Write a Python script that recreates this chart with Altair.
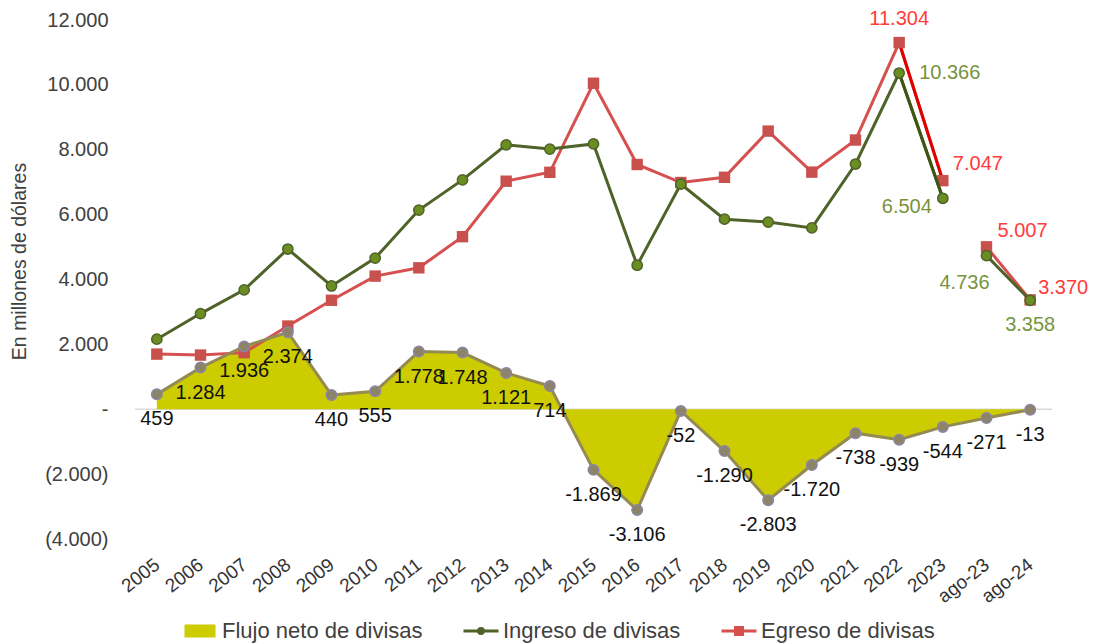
import altair as alt
import pandas as pd

categorias = ["2005", "2006", "2007", "2008", "2009", "2010", "2011", "2012", "2013", "2014",
              "2015", "2016", "2017", "2018", "2019", "2020", "2021", "2022", "2023",
              "ago-23", "ago-24"]
ingreso = [2160, 2950, 3680, 4940, 3800, 4660, 6140, 7070, 8150, 8020,
           8180, 4440, 6940, 5860, 5770, 5590, 7560, 10366, 6504, 4736, 3358]
egreso = [1700, 1670, 1745, 2565, 3360, 4105, 4360, 5320, 7030, 7305,
          10050, 7545, 6990, 7150, 8575, 7310, 8300, 11304, 7047, 5007, 3370]
neto = [459, 1284, 1936, 2374, 440, 555, 1778, 1748, 1121, 714,
        -1869, -3106, -52, -1290, -2803, -1720, -738, -939, -544, -271, -13]
tramo = ["anual", "anual", "anual", "anual", "anual", "anual", "anual", "anual", "anual", "anual",
         "anual", "anual", "anual", "anual", "anual", "anual", "anual", "anual", "anual",
         "agosto", "agosto"]
series = ["Flujo neto de divisas", "Ingreso de divisas", "Egreso de divisas"]
tramo_destacado = ["2022", "2023"]

# label placement (style): (category, dx, dy, align)
etiq_egreso = [("2022", 0, -24, "center"), ("2023", 10, -17, "left"),
               ("ago-23", 11, -16, "left"), ("ago-24", 8, -12, "left")]
etiq_ingreso = [("2022", 20, 0, "left"), ("2023", -11, 9, "right"),
                ("ago-23", -22, 27, "center"), ("ago-24", 0, 25, "center")]

FONT = "Liberation Sans"
C_AREA = "#cccc00"
C_NET_LINE = "#948a54"
C_ING = "#4f6228"
C_ING_PT = "#6b8e23"
C_EGR = "#d5504e"
C_EGR_PT = "#c8504d"


def fmt(v):
    return f"{v:,}".replace(",", ".")


df = pd.DataFrame({"categoria": categorias, "ingreso": ingreso, "egreso": egreso,
                   "neto": neto, "tramo": tramo})
df["lab_neto"] = [fmt(v) for v in neto]
df["lab_ing"] = [fmt(v) for v in ingreso]
df["lab_egr"] = [fmt(v) for v in egreso]

xenc = alt.X("categoria:N", sort=categorias,
             scale=alt.Scale(type="point", padding=0.5),
             axis=alt.Axis(title=None, labelAngle=322, labelAlign="right",
                           labelBaseline="middle", labelFontSize=19, labelFont=FONT,
                           labelColor="#333333", domain=False, ticks=False,
                           labelPadding=23, labelOverlap=False, labelBound=False))
yscale = alt.Scale(domain=[-4000, 12000], nice=False)
ylabel = ("datum.value == 0 ? '-' : (datum.value < 0 ? '(' + replace(format(-datum.value, ',.0f'), ',', '.') + ')'"
          " : replace(format(datum.value, ',.0f'), ',', '.'))")
yaxis = alt.Axis(values=[-4000, -2000, 0, 2000, 4000, 6000, 8000, 10000, 12000],
                 labelExpr=ylabel, domain=False, ticks=False, grid=False,
                 labelPadding=27, labelFontSize=20, labelFont=FONT, labelColor="#404040",
                 title="En millones de dólares", titleFontSize=19.5, titleFont=FONT,
                 titleFontWeight="normal", titleColor="#404040", titlePadding=15,
                 titleY=241)


def Y(field):
    return alt.Y(field, scale=yscale, axis=yaxis)


base = alt.Chart(df)

cero = alt.Chart(pd.DataFrame({"cero": [0]})).mark_rule(color="#d9d9d9", strokeWidth=1.5).encode(
    y=Y("cero:Q"))

area = base.mark_area(color=C_AREA, opacity=1).encode(
    x=xenc, y=Y("neto:Q"), y2=alt.datum(0))

destacado = df[df["categoria"].isin(tramo_destacado)]

egr_line = base.mark_line(color=C_EGR, strokeWidth=3).encode(
    x=xenc, y=Y("egreso:Q"), detail="tramo:N")
egr_hl = alt.Chart(destacado).mark_line(color="#e00000", strokeWidth=3).encode(
    x=xenc, y=Y("egreso:Q"))
egr_pts = base.mark_square(size=130, color=C_EGR_PT, opacity=1).encode(
    x=xenc, y=Y("egreso:Q"))

ing_line = base.mark_line(color=C_ING, strokeWidth=3).encode(
    x=xenc, y=Y("ingreso:Q"), detail="tramo:N")
ing_hl = alt.Chart(destacado).mark_line(color="#3d5614", strokeWidth=3).encode(
    x=xenc, y=Y("ingreso:Q"))
ing_pts = base.mark_circle(size=105, color=C_ING_PT, stroke=C_ING, strokeWidth=1.5, opacity=1).encode(
    x=xenc, y=Y("ingreso:Q"))

net_line = base.mark_line(color=C_NET_LINE, strokeWidth=3).encode(
    x=xenc, y=Y("neto:Q"))
net_pts = base.mark_circle(size=110, fill="#8d8468", stroke="#8a85a6", strokeWidth=1.5, opacity=1).encode(
    x=xenc, y=Y("neto:Q"))
net_lab = base.mark_text(dy=25, fontSize=20, font=FONT, color="#111111").encode(
    x=xenc, y=Y("neto:Q"), text="lab_neto:N")

lab_layers = []
for cat, dx, dy, al in etiq_egreso:
    lab_layers.append(base.transform_filter(alt.datum.categoria == cat).mark_text(
        dx=dx, dy=dy, align=al, fontSize=20, font=FONT, color="#ff3b3b").encode(
        x=xenc, y=Y("egreso:Q"), text="lab_egr:N"))
for cat, dx, dy, al in etiq_ingreso:
    lab_layers.append(base.transform_filter(alt.datum.categoria == cat).mark_text(
        dx=dx, dy=dy, align=al, fontSize=20, font=FONT, color="#77933c").encode(
        x=xenc, y=Y("ingreso:Q"), text="lab_ing:N"))

# legend
fills = [C_AREA, C_ING_PT, C_EGR_PT]
strokes = [C_AREA, C_ING, C_EGR]
paths = [
    "M-0.8,-0.28L0.8,-0.28L0.8,0.28L-0.8,0.28Z",
    "M-1,0L1,0M0.14,0A0.14,0.14,0,1,1,-0.14,0A0.14,0.14,0,1,1,0.14,0Z",
    "M-1,0L1,0M-0.2,-0.2L0.2,-0.2L0.2,0.2L-0.2,0.2Z",
]
leg = alt.Legend(title=None, orient="none", legendX=46, legendY=592, direction="horizontal",
                 labelFontSize=22, labelFont=FONT, labelColor="#404040", symbolSize=1225,
                 symbolStrokeWidth=3, labelOffset=3, columnPadding=34, symbolOpacity=1,
                 labelLimit=0)
legend_layer = alt.Chart(pd.DataFrame({"serie": series})).mark_point(filled=True, opacity=1).encode(
    x=alt.value(0), y=alt.value(-500),
    fill=alt.Fill("serie:N", sort=series, scale=alt.Scale(domain=series, range=fills), legend=leg),
    stroke=alt.Stroke("serie:N", sort=series, scale=alt.Scale(domain=series, range=strokes), legend=leg),
    shape=alt.Shape("serie:N", sort=series, scale=alt.Scale(domain=series, range=paths), legend=leg),
)

chart = alt.layer(
    cero, area, egr_line, egr_hl, egr_pts, ing_line, ing_hl, ing_pts,
    net_line, net_pts, net_lab, *lab_layers, legend_layer
).properties(
    width=917, height=519,
    autosize=alt.AutoSizeParams(type="none"),
    padding={"left": 135, "top": 20, "right": 47, "bottom": 105},
    background="white",
).configure_view(stroke=None)

chart.save("out.html", embed_options={"renderer": "svg", "actions": False})
